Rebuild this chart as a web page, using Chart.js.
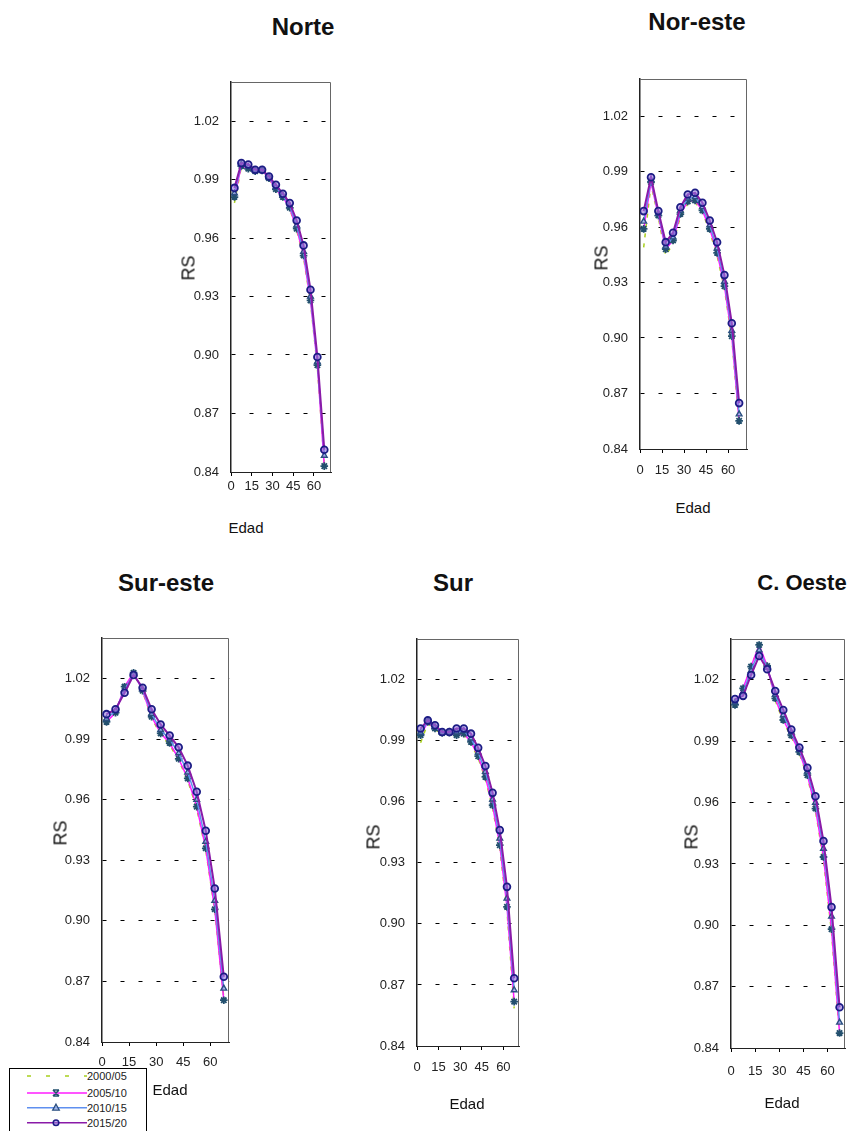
<!DOCTYPE html>
<html>
<head>
<meta charset="utf-8">
<script src="https://cdn.jsdelivr.net/npm/chart.js@4.4.1/dist/chart.umd.min.js"></script>
<style>
  html, body { margin:0; padding:0; background:#fff; width:848px; height:1131px; overflow:hidden; position:relative; }
  canvas { position:absolute; }
  .lbl { position:absolute; transform:translate(-50%,-50%); white-space:nowrap; font-family:'Liberation Sans', Arial, sans-serif; color:#111; }
  .ttl { font-size:24px; font-weight:bold; }
  .rs { font-size:18px; transform:translate(-50%,-50%) rotate(-90deg); }
  .edad { font-size:15px; }
  #legend { position:absolute; left:9px; top:1068px; width:136px; height:75px; border:1px solid #000; background:#fff; }
</style>
</head>
<body>
<script>
// ---- data ----
const ages = [2.5, 7.5, 12.5, 17.5, 22.5, 27.5, 32.5, 37.5, 42.5, 47.5, 52.5, 57.5, 62.5, 67.5];
const xTicks = [0, 15, 30, 45, 60];
const yTicks = [0.84, 0.87, 0.90, 0.93, 0.96, 0.99, 1.02];
const seriesLabels = ['2000/05', '2005/10', '2010/15', '2015/20'];

const norte2000 = [0.9780, 0.9965, 0.9952, 0.9945, 0.9950, 0.9905, 0.9845, 0.9805, 0.9750, 0.9640, 0.9500, 0.9270, 0.8935, 0.8440];
const norte2005 = [0.9810, 0.9970, 0.9955, 0.9943, 0.9946, 0.9907, 0.9850, 0.9810, 0.9755, 0.9648, 0.9510, 0.9280, 0.8948, 0.8430];
const norte2010 = [0.9830, 0.9978, 0.9965, 0.9947, 0.9948, 0.9911, 0.9860, 0.9818, 0.9765, 0.9665, 0.9530, 0.9300, 0.8965, 0.8484];
const norte2015 = [0.9857, 0.9984, 0.9977, 0.9950, 0.9950, 0.9915, 0.9873, 0.9827, 0.9779, 0.9690, 0.9562, 0.9335, 0.8990, 0.8514];

const noreste2000 = [0.9490, 0.9830, 0.9650, 0.9446, 0.9510, 0.9655, 0.9725, 0.9735, 0.9680, 0.9575, 0.9445, 0.9265, 0.8995, 0.8540];
const noreste2005 = [0.9590, 0.9842, 0.9662, 0.9480, 0.9527, 0.9670, 0.9738, 0.9743, 0.9690, 0.9590, 0.9460, 0.9280, 0.9010, 0.8552];
const noreste2010 = [0.9630, 0.9855, 0.9672, 0.9495, 0.9545, 0.9688, 0.9755, 0.9762, 0.9708, 0.9610, 0.9485, 0.9305, 0.9040, 0.8588];
const noreste2015 = [0.9686, 0.9869, 0.9686, 0.9518, 0.9569, 0.9707, 0.9776, 0.9785, 0.9731, 0.9635, 0.9518, 0.9340, 0.9080, 0.8648];

const sureste2000 = [0.9990, 1.0035, 1.0150, 1.0225, 1.0135, 1.0005, 0.9920, 0.9870, 0.9795, 0.9695, 0.9555, 0.9350, 0.9050, 0.8620];
const sureste2005 = [0.9985, 1.0030, 1.0159, 1.0228, 1.0139, 1.0010, 0.9928, 0.9880, 0.9802, 0.9705, 0.9565, 0.9359, 0.9057, 0.8607];
const sureste2010 = [1.0000, 1.0040, 1.0145, 1.0222, 1.0146, 1.0025, 0.9945, 0.9898, 0.9830, 0.9735, 0.9600, 0.9392, 0.9100, 0.8665];
const sureste2015 = [1.0023, 1.0047, 1.0129, 1.0217, 1.0154, 1.0047, 0.9972, 0.9917, 0.9859, 0.9768, 0.9639, 0.9446, 0.9160, 0.8723];

const sur2000 = [0.9890, 0.9985, 0.9955, 0.9935, 0.9938, 0.9920, 0.9928, 0.9885, 0.9815, 0.9712, 0.9570, 0.9372, 0.9065, 0.8585];
const sur2005 = [0.9927, 0.9992, 0.9960, 0.9938, 0.9940, 0.9927, 0.9935, 0.9894, 0.9824, 0.9722, 0.9583, 0.9387, 0.9084, 0.8618];
const sur2010 = [0.9940, 0.9996, 0.9968, 0.9940, 0.9942, 0.9942, 0.9948, 0.9912, 0.9843, 0.9748, 0.9612, 0.9420, 0.9125, 0.8675];
const sur2015 = [0.9960, 1.0000, 0.9976, 0.9943, 0.9943, 0.9960, 0.9960, 0.9935, 0.9865, 0.9776, 0.9644, 0.9461, 0.9182, 0.8733];

const coeste2000 = [1.0070, 1.0150, 1.0270, 1.0360, 1.0270, 1.0100, 0.9995, 0.9920, 0.9840, 0.9725, 0.9560, 0.9320, 0.8965, 0.8460];
const coeste2005 = [1.0078, 1.0159, 1.0265, 1.0371, 1.0268, 1.0110, 1.0004, 0.9929, 0.9848, 0.9734, 0.9571, 0.9334, 0.8981, 0.8473];
const coeste2010 = [1.0090, 1.0140, 1.0245, 1.0345, 1.0260, 1.0128, 1.0028, 0.9943, 0.9858, 0.9752, 0.9600, 0.9375, 0.9043, 0.8525];
const coeste2015 = [1.0106, 1.0122, 1.0224, 1.0317, 1.0252, 1.0146, 1.0053, 0.9957, 0.9869, 0.9770, 0.9631, 0.9412, 0.9089, 0.8599];

// ---- layout / style ----
const panels = [
  { title:'Norte',    data:[norte2000, norte2005, norte2010, norte2015],     L:231, T:82,  R:333, B:472,  xMax:72.5, xPad:3,
    tp:[303,27],  rp:[189,268], ep:[246,527], tsize:24 },
  { title:'Nor-este', data:[noreste2000, noreste2005, noreste2010, noreste2015], L:640, T:79,  R:749, B:449,  xMax:73, xPad:10,
    tp:[697,22],  rp:[602,258], ep:[693,507], tsize:24 },
  { title:'Sur-este', data:[sureste2000, sureste2005, sureste2010, sureste2015], L:102, T:638, R:231, B:1042, xMax:70.5, xPad:9,
    tp:[166,583], rp:[61,833],  ep:[170,1089], tsize:24 },
  { title:'Sur',      data:[sur2000, sur2005, sur2010, sur2015],             L:417, T:639, R:521, B:1046, xMax:71, xPad:10,
    tp:[453,583], rp:[374,837], ep:[467,1103], tsize:24 },
  { title:'C. Oeste', data:[coeste2000, coeste2005, coeste2010, coeste2015], L:731, T:639, R:847, B:1048, xMax:71, xPad:12,
    tp:[802,583], rp:[692,837], ep:[782,1102], tsize:22 }
];

const dsStyles = [
  { borderColor:'#a8cf1e', borderDash:[4,6], borderWidth:1.5, pointRadius:0, order:3 },
  { borderColor:'#ff1cff', borderWidth:1.5, pointStyle:'star', pointRadius:3.8, pointBorderColor:'#23506e', pointBackgroundColor:'#23506e', pointBorderWidth:1.8, order:2 },
  { borderColor:'#5f8fef', borderWidth:1.5, pointStyle:'triangle', pointRadius:3.3, pointBorderColor:'#2b4f80', pointBackgroundColor:'rgba(160,180,235,0.7)', pointBorderWidth:1.4, order:1 },
  { borderColor:'#8a1aa8', borderWidth:2, pointStyle:'circle', pointRadius:3.4, pointBorderColor:'#1c1c85', pointBackgroundColor:'rgba(150,120,220,0.6)', pointBorderWidth:1.8, order:0 }
];

const framePlugin = {
  id:'frame',
  beforeDatasetsDraw(chart) {
    const {ctx, chartArea:a} = chart;
    ctx.save();
    ctx.strokeStyle = '#666'; ctx.lineWidth = 1;
    ctx.beginPath();
    ctx.moveTo(Math.round(a.left), Math.round(a.top) + 0.5);
    ctx.lineTo(Math.round(a.right) - 0.5, Math.round(a.top) + 0.5);
    ctx.lineTo(Math.round(a.right) - 0.5, Math.round(a.bottom));
    ctx.stroke();
    ctx.restore();
  }
};

const FONT = "'Liberation Sans', Arial, sans-serif";
const yW = 70, padT = 20, padR = 4, xH = 40;

function addLabel(cls, text, pos, size) {
  const d = document.createElement('div');
  d.className = 'lbl ' + cls;
  d.textContent = text;
  d.style.left = pos[0] + 'px';
  d.style.top = pos[1] + 'px';
  if (size) d.style.fontSize = size + 'px';
  document.body.appendChild(d);
}

panels.forEach(p => {
  const W = p.R - p.L, H = p.B - p.T;
  const cv = document.createElement('canvas');
  const cw = W + yW + padR, ch = H + padT + xH;
  cv.width = cw; cv.height = ch;
  cv.style.width = cw + 'px'; cv.style.height = ch + 'px';
  cv.style.left = (p.L - yW) + 'px';
  cv.style.top = (p.T - padT) + 'px';
  document.body.appendChild(cv);

  const datasets = p.data.map((arr, k) => Object.assign({
    label: seriesLabels[k],
    data: ages.map((a, i) => ({ x:a, y:arr[i] })),
    showLine: true,
    fill: false,
    tension: 0
  }, dsStyles[k]));

  new Chart(cv, {
    type:'scatter',
    data:{ datasets },
    options:{
      responsive:false, animation:false, devicePixelRatio:1,
      layout:{ padding:{ left:0, top:padT, right:padR, bottom:0 } },
      plugins:{ legend:{ display:false }, tooltip:{ enabled:false }, title:{ display:false } },
      scales:{
        x:{
          type:'linear', min:0, max:p.xMax,
          afterBuildTicks: s => { s.ticks = xTicks.map(v => ({ value:v })); },
          afterFit: s => { s.height = xH; },
          grid:{ display:true, drawOnChartArea:false, drawTicks:true, tickLength:4, color:'#000' },
          border:{ display:true, color:'#222', width:1 },
          ticks:{ font:{ family:FONT, size:13 }, color:'#222', padding:p.xPad, maxRotation:0, autoSkip:false }
        },
        y:{
          min:0.84, max:1.04,
          afterBuildTicks: s => { s.ticks = yTicks.map(v => ({ value:v })); },
          afterFit: s => { s.width = yW; },
          grid:{ color:'#000', drawTicks:false, lineWidth:1 },
          border:{ display:true, color:'#222', width:1.5, dash:[4,14] },
          ticks:{ font:{ family:FONT, size:13 }, color:'#222', padding:12, callback: v => Number(v).toFixed(2) }
        }
      }
    },
    plugins:[framePlugin]
  });

  addLabel('ttl', p.title, p.tp, p.tsize);
  addLabel('rs', 'RS', p.rp);
  addLabel('edad', 'Edad', p.ep);
});

// ---- legend ----
const lg = document.createElement('div');
lg.id = 'legend';
const rowsY = [7, 24, 38.7, 53.7];
let svg = '<svg width="136" height="75" xmlns="http://www.w3.org/2000/svg" style="font-family:' + "Liberation Sans, Arial, sans-serif" + ';font-size:11px">';
svg += '<line x1="17" y1="' + rowsY[0] + '" x2="77" y2="' + rowsY[0] + '" stroke="#a8cf1e" stroke-width="1.5" stroke-dasharray="4 15"/>';
svg += '<line x1="17" y1="' + rowsY[1] + '" x2="77" y2="' + rowsY[1] + '" stroke="#ff1cff" stroke-width="1.5"/>';
svg += '<path d="M43,' + (rowsY[1]-3) + ' L49,' + (rowsY[1]+3) + ' M49,' + (rowsY[1]-3) + ' L43,' + (rowsY[1]+3) + ' M43,' + (rowsY[1]-3) + ' H49 M43,' + (rowsY[1]+3) + ' H49" stroke="#23506e" stroke-width="1.6" fill="none"/>';
svg += '<line x1="17" y1="' + rowsY[2] + '" x2="77" y2="' + rowsY[2] + '" stroke="#5f8fef" stroke-width="1.5"/>';
svg += '<path d="M46,' + (rowsY[2]-3.5) + ' L49.3,' + (rowsY[2]+2.5) + ' L42.7,' + (rowsY[2]+2.5) + ' Z" stroke="#2b4f80" stroke-width="1.3" fill="rgba(160,180,235,0.7)"/>';
svg += '<line x1="17" y1="' + rowsY[3] + '" x2="77" y2="' + rowsY[3] + '" stroke="#8a1aa8" stroke-width="1.5"/>';
svg += '<circle cx="46" cy="' + rowsY[3] + '" r="2.8" stroke="#1c1c85" stroke-width="1.5" fill="rgba(150,120,220,0.6)"/>';
seriesLabels.forEach((t, i) => {
  svg += '<text x="77" y="' + (rowsY[i] + 4) + '" fill="#222">' + t + '</text>';
});
svg += '</svg>';
lg.innerHTML = svg;
document.body.appendChild(lg);
</script>
</body>
</html>
